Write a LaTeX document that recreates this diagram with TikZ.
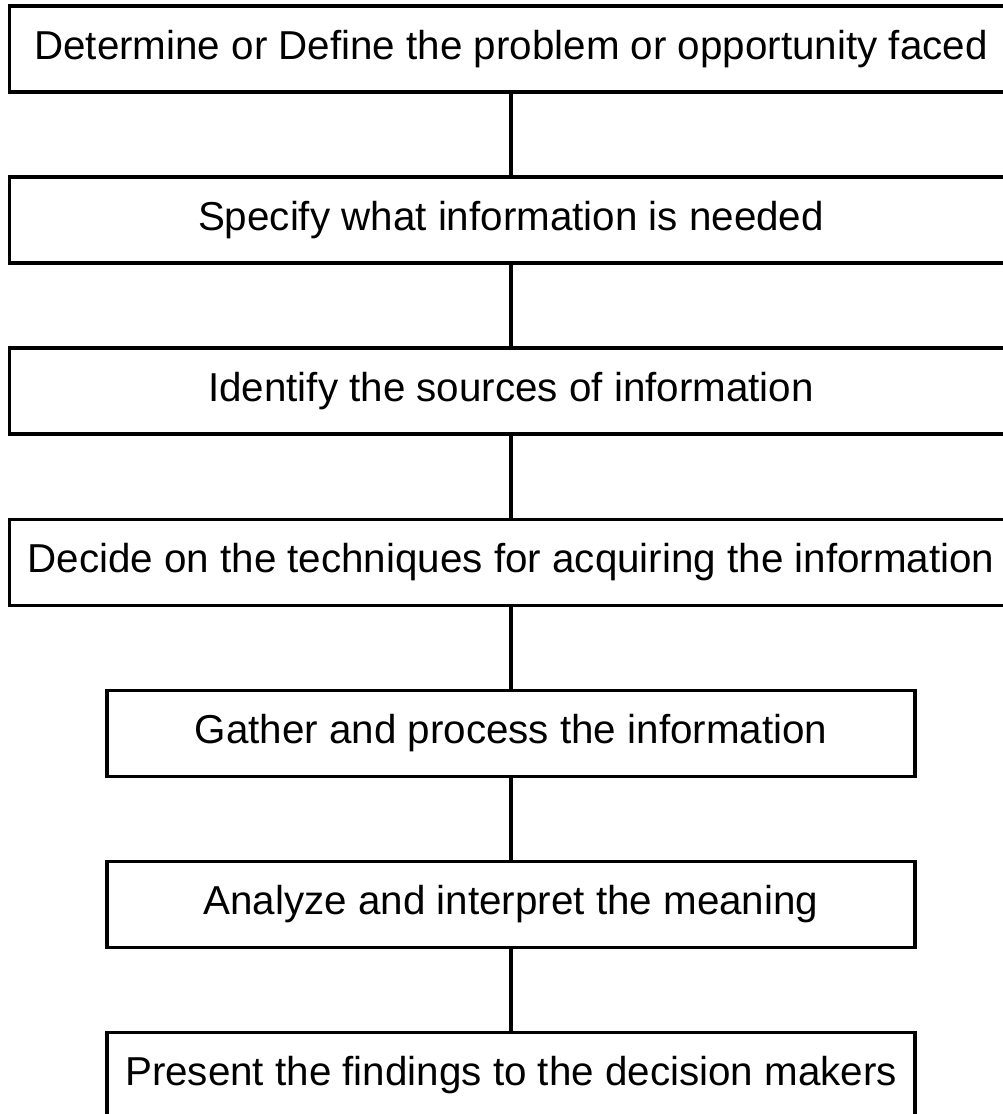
\documentclass[tikz,border=0pt]{standalone}
\usepackage{fontspec}
\setmainfont{Liberation Sans}
\usetikzlibrary{positioning}

\tikzset{
  stage/.style={draw, line width=2.3pt, minimum height=2.15cm, inner sep=0pt,
    outer sep=0pt, font=\fontsize{28.7}{34}\selectfont},
  wide/.style={stage, minimum width=25.05cm},
  narrow/.style={stage, minimum width=20.2cm},
  link/.style={line width=2.3pt}
}

\begin{document}
\begin{tikzpicture}[x=0.025cm, y=-0.025cm, node distance=2.125cm]
  \clip (0,0) rectangle (1003,1114);
  % the four upper steps run past the page edge on the right
  \node[wide] (define) at (511,49) {Determine or Define the problem or opportunity faced};
  \node[wide, below=of define] (specify) {Specify what information is needed};
  \node[wide, below=of specify] (sources) {Identify the sources of information};
  \node[wide, below=of sources] (techniques) {Decide on the techniques for acquiring the information};
  % narrower steps below
  \node[narrow, below=of techniques] (gather) {Gather and process the information};
  \node[narrow, below=of gather] (analyze) {Analyze and interpret the meaning};
  \node[narrow, below=of analyze] (present) {Present the findings to the decision makers};
  % plain links between the steps
  \draw[link] (define) -- (specify);
  \draw[link] (specify) -- (sources);
  \draw[link] (sources) -- (techniques);
  \draw[link] (techniques) -- (gather);
  \draw[link] (gather) -- (analyze);
  \draw[link] (analyze) -- (present);
\end{tikzpicture}
\end{document}
